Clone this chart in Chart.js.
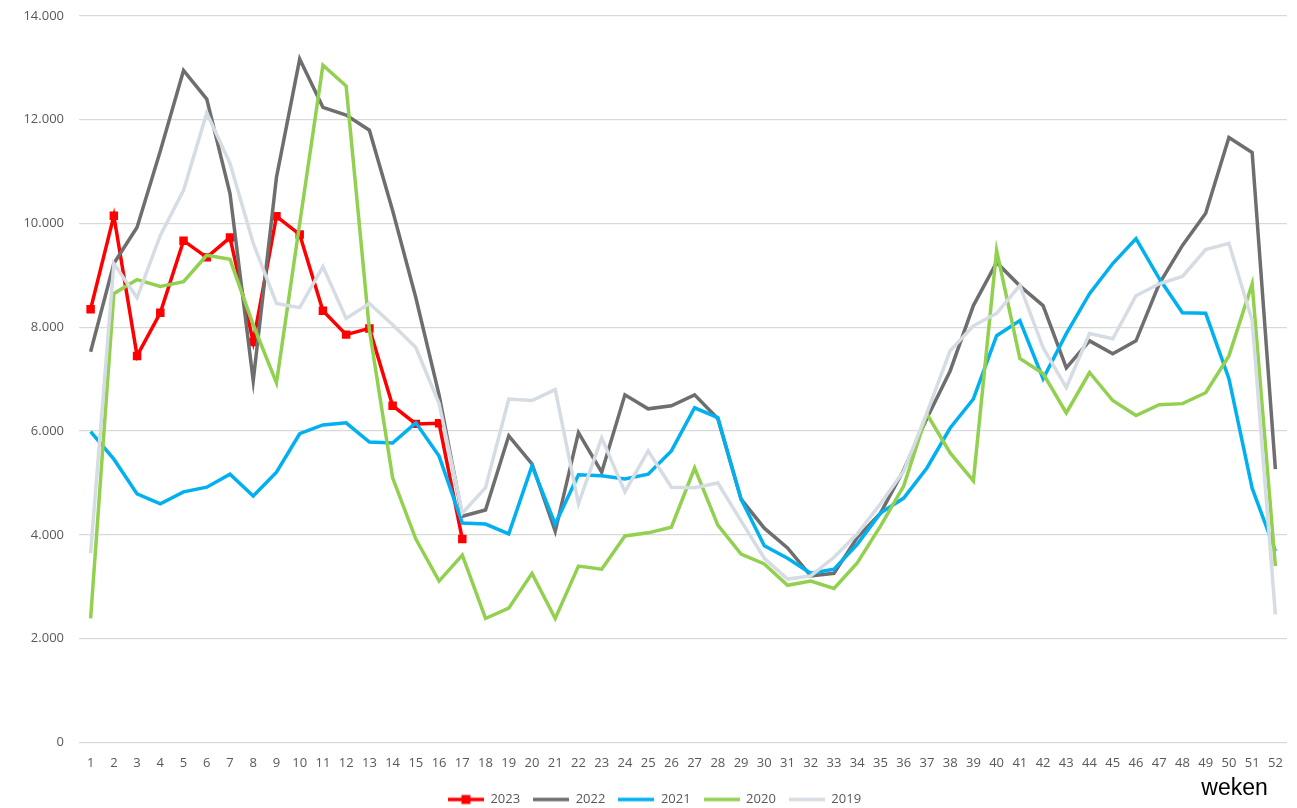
<!DOCTYPE html>
<html>
<head>
<meta charset="utf-8">
<script src="https://cdn.jsdelivr.net/npm/chart.js@4.4.1/dist/chart.umd.min.js"></script>
<style>
  html, body { margin: 0; padding: 0; background: #fff; }
</style>
</head>
<body>
<canvas id="grafiek" width="1297" height="808"></canvas>
<script>
// weeknummers
const weken = Array.from({ length: 52 }, (_, i) => String(i + 1));

const jaren = ["2023", "2022", "2021", "2020", "2019"];
const kleuren = ["#ff0000", "#6e6e6e", "#00b0f0", "#92d050", "#d6dce4"];

const waarden2023 = [8350, 10150, 7450, 8280, 9670, 9350, 9730, 7720, 10140, 9790, 8320, 7860, 7980, 6490, 6140, 6150, 3920];
const waarden2022 = [7530, 9230, 9930, 11400, 12950, 12400, 10580, 6970, 10890, 13170, 12240, 12090, 11800, 10250, 8570, 6700, 4360, 4480, 5910, 5370, 4070, 5970, 5210, 6700, 6430, 6490, 6700, 6240, 4690, 4130, 3750, 3210, 3260, 3950, 4420, 5250, 6250, 7160, 8420, 9250, 8800, 8420, 7220, 7740, 7490, 7740, 8840, 9580, 10200, 11660, 11370, 5270];
const waarden2021 = [5990, 5460, 4790, 4600, 4830, 4920, 5170, 4750, 5210, 5950, 6120, 6160, 5790, 5770, 6160, 5520, 4230, 4210, 4020, 5330, 4210, 5160, 5140, 5080, 5170, 5620, 6450, 6260, 4690, 3790, 3550, 3260, 3340, 3820, 4420, 4710, 5290, 6060, 6620, 7840, 8130, 7010, 7880, 8650, 9230, 9710, 8940, 8280, 8270, 7010, 4900, 3690];
const waarden2020 = [2390, 8650, 8920, 8790, 8880, 9390, 9310, 8050, 6930, 10000, 13050, 12650, 7950, 5100, 3920, 3110, 3610, 2390, 2590, 3260, 2390, 3400, 3340, 3980, 4040, 4150, 5290, 4190, 3630, 3440, 3030, 3110, 2970, 3460, 4170, 4940, 6330, 5580, 5040, 9480, 7400, 7110, 6350, 7130, 6590, 6300, 6510, 6530, 6740, 7450, 8840, 3400];
const waarden2019 = [3650, 9230, 8570, 9770, 10640, 12130, 11160, 9620, 8460, 8380, 9170, 8170, 8460, 8050, 7610, 6530, 4420, 4910, 6620, 6590, 6800, 4600, 5870, 4830, 5620, 4920, 4910, 5000, 4270, 3550, 3150, 3210, 3570, 4020, 4600, 5230, 6350, 7550, 8030, 8270, 8810, 7610, 6840, 7880, 7780, 8610, 8840, 8980, 9500, 9620, 8130, 2470];

const alleWaarden = [waarden2023, waarden2022, waarden2021, waarden2020, waarden2019];

// kleine plaatjes voor de legenda: lijn, en voor 2023 ook een vierkantje
function legendaPlaatje(kleur, metBlokje) {
  const c = document.createElement("canvas");
  c.width = 36;
  c.height = 12;
  const g = c.getContext("2d");
  g.strokeStyle = kleur;
  g.lineWidth = 3.5;
  g.beginPath();
  g.moveTo(0, 6);
  g.lineTo(36, 6);
  g.stroke();
  if (metBlokje) {
    g.fillStyle = kleur;
    g.fillRect(13.5, 1.5, 9, 9);
  }
  return c;
}

function puntjes(getal) {
  return String(getal).replace(/\B(?=(\d{3})+(?!\d))/g, ".");
}

const datasets = jaren.map((jaar, i) => ({
  label: jaar,
  data: alleWaarden[i],
  borderColor: kleuren[i],
  backgroundColor: kleuren[i],
  borderWidth: 3.5,
  pointRadius: i === 0 ? 6 : 0,
  pointStyle: "rect",
  pointBorderWidth: 0,
  tension: 0,
  // Excel tekent de laatste reeks bovenop
  order: jaren.length - i
}));

new Chart(document.getElementById("grafiek"), {
  type: "line",
  data: { labels: weken, datasets: datasets },
  options: {
    responsive: false,
    animation: false,
    layout: { padding: { top: 16, right: 10, left: 22, bottom: -8 } },
    plugins: {
      tooltip: { enabled: false },
      legend: {
        position: "bottom",
        labels: {
          usePointStyle: true,
          pointStyleWidth: 36,
          padding: 13,
          color: "#595959",
          font: { family: "'Open Sans'", size: 13 },
          generateLabels: chart => chart.data.datasets.map((ds, i) => ({
            text: ds.label,
            datasetIndex: i,
            fontColor: "#595959",
            lineWidth: 0,
            pointStyle: legendaPlaatje(ds.borderColor, i === 0),
            hidden: false
          }))
        }
      }
    },
    scales: {
      x: {
        offset: true,
        grid: { display: false },
        border: { display: false },
        ticks: {
          color: "#595959",
          font: { family: "'Open Sans'", size: 13 },
          padding: 5,
          maxRotation: 0,
          autoSkip: false
        },
        title: {
          display: true,
          text: "weken   ",
          align: "end",
          color: "#000",
          font: { family: "'Liberation Sans'", size: 23 },
          padding: { top: 0, bottom: -22 }
        },
        afterFit: scale => { scale.height = 37.5; }
      },
      y: {
        min: 0,
        max: 14000,
        border: { display: false },
        grid: { color: "#d9d9d9", lineWidth: 1.3, drawTicks: false },
        ticks: {
          stepSize: 2000,
          color: "#595959",
          font: { family: "'Open Sans'", size: 13 },
          padding: 15,
          callback: v => puntjes(v)
        },
        afterFit: scale => {
          scale.width = 57;
          scale.paddingTop = 0;
          scale.paddingBottom = 0;
        }
      }
    }
  }
});
</script>
</body>
</html>
